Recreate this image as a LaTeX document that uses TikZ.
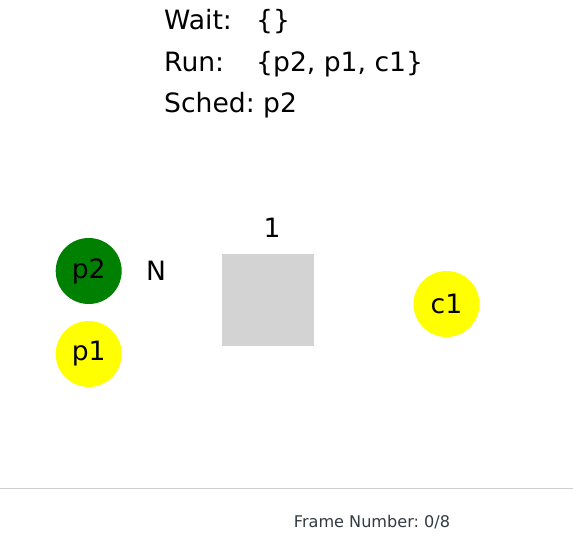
\documentclass[tikz,border=0pt]{standalone}
\usepackage{fontspec}
\setmainfont{DejaVu Sans}
\frenchspacing
\definecolor{boxgray}{HTML}{D3D3D3}
\definecolor{pgreen}{HTML}{008000}
\definecolor{pyellow}{HTML}{FFFF00}
\definecolor{rulegray}{HTML}{CFCFCF}
\definecolor{frametext}{HTML}{333A40}
\begin{document}
\begin{tikzpicture}[x=1pt,y=-1pt,
  lbl/.style={font=\fontsize{26.6}{30}\selectfont, inner sep=0pt, anchor=base west},
  proc/.style={circle, minimum size=66pt, inner sep=0pt, font=\fontsize{26.6}{30}\selectfont},
  plain/.style={inner sep=0pt, font=\fontsize{26.6}{30}\selectfont},
]
\useasboundingbox (0,0) rectangle (573,537);
% state text
\node[lbl] (waitl) at (164,30) {Wait:};
\node[lbl] (waitv) at (256,30) {\{\}};
\node[lbl] (runl) at (164,71.5) {Run:};
\node[lbl] (runv) at (256,71.5) {\{p2, p1, c1\}};
\node[lbl] (schedl) at (164,112.5) {Sched: p2};
% processes
\node[proc, fill=pgreen] (p2) at (88.7,271) {p2};
\node[proc, fill=pyellow] (p1) at (88.7,354) {p1};
\node[proc, fill=pyellow] (c1) at (446.5,304) {c1};
\node[plain] (N) at (156,271) {N};
% buffer
\node[fill=boxgray, minimum size=92pt, inner sep=0pt] (buf) at (268,300) {};
\node[plain] (bufnum) at (272,228) {1};
% footer
\coordinate (rl) at (0,488);
\coordinate (rr) at (573,488);
\draw[rulegray, line width=1pt] (rl) -- (rr);
\node[inner sep=0pt, text=frametext, font=\fontsize{16.1}{18}\selectfont] (frame) at (372,522) {Frame Number: 0/8};
\end{tikzpicture}
\end{document}
